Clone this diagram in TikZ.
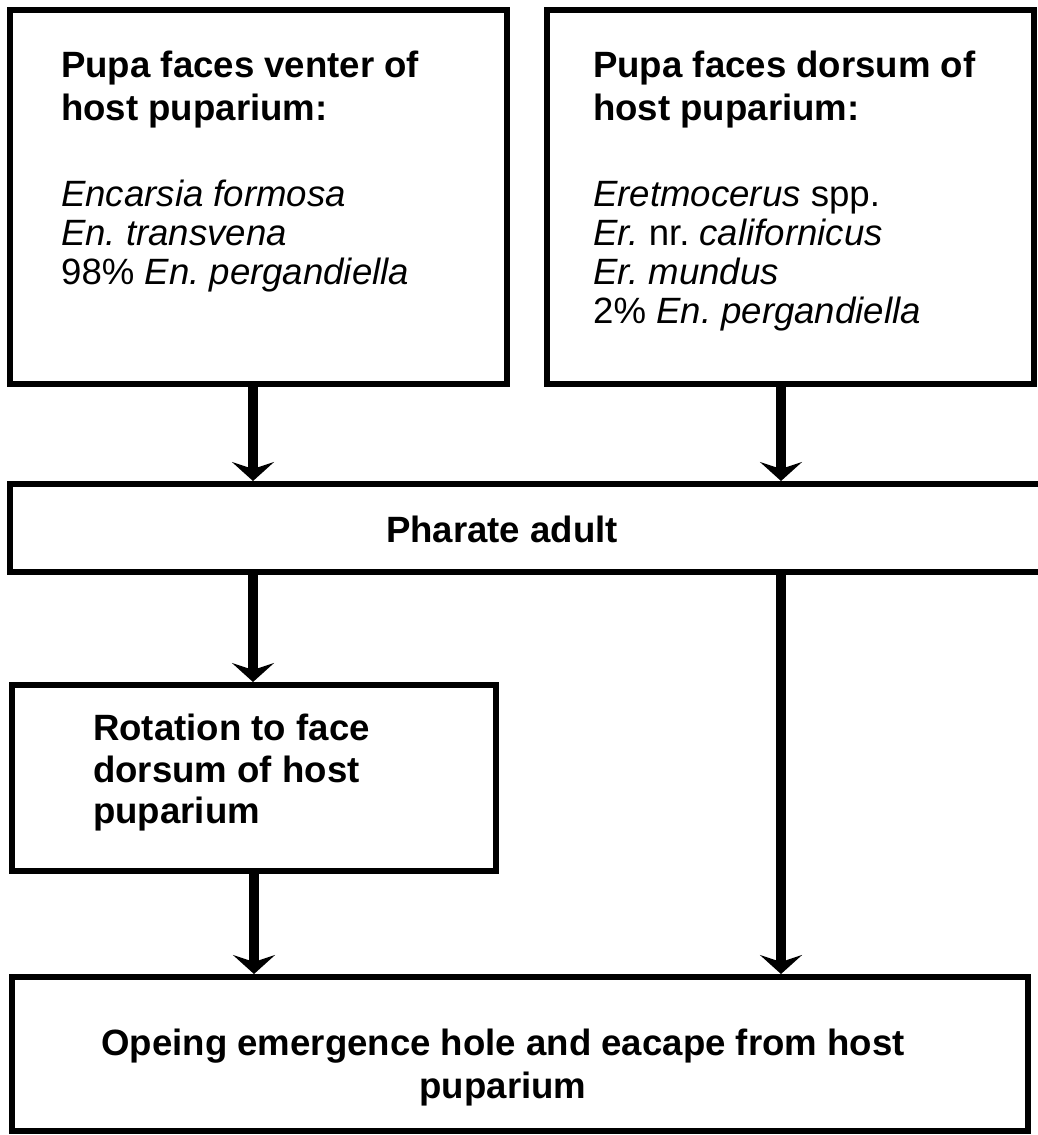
\documentclass[tikz,border=0pt]{standalone}
\usepackage{fontspec}
\setmainfont{Liberation Sans}
\usetikzlibrary{arrows.meta}
\frenchspacing
\begin{document}
\begin{tikzpicture}[x=1pt,y=-1pt,
  box/.style={draw=black, line width=6pt, inner sep=0pt, fill=white},
  txt/.style={inner sep=0pt, anchor=base west, font=\fontsize{36.6}{42}\selectfont\frenchspacing},
  btxt/.style={txt, font=\fontsize{36.6}{42}\selectfont\bfseries\frenchspacing},
  ctxt/.style={btxt, anchor=base},
  arr/.style={line width=10pt, -{Stealth[length=19pt, width=42pt, inset=7pt]}}]
\useasboundingbox[fill=white] (0,0) rectangle (1037,1135);

% boxes
\node[box, minimum width=497pt, minimum height=374pt] (b1) at (258.5,197) {};
\node[box, minimum width=487pt, minimum height=374pt] (b2) at (790.5,197) {};
\node[box, minimum width=1040pt, minimum height=88pt] (ph) at (530,528) {};
\node[box, minimum width=484pt, minimum height=186pt] (rot) at (254,778) {};
\node[box, minimum width=1016pt, minimum height=154pt] (out) at (520,1054) {};

% texts box 1
\node[btxt] (t11) at (61,77) {Pupa faces venter of};
\node[btxt] (t12) at (61,120) {host puparium:};
\node[txt] (t13) at (61,206) {\textit{Encarsia formosa}};
\node[txt] (t14) at (61,245) {\textit{En.\ transvena}};
\node[txt] (t15) at (61,284) {98\% \textit{En.\ pergandiella}};

% texts box 2
\node[btxt] (t21) at (593,77) {Pupa faces dorsum of};
\node[btxt] (t22) at (593,120) {host puparium:};
\node[txt] (t23) at (593,206) {\textit{Eretmocerus} spp.};
\node[txt] (t24) at (593,245) {\textit{Er.}\ nr.\ \textit{californicus}};
\node[txt] (t25) at (593,284) {\textit{Er.\ mundus}};
\node[txt] (t26) at (593,323) {2\% \textit{En.\ pergandiella}};

% pharate
\node[ctxt] (tph) at (502,542) {Pharate adult};

% rotation
\node[btxt] (tr1) at (93,740) {Rotation to face};
\node[btxt] (tr2) at (93,782) {dorsum of host};
\node[btxt] (tr3) at (93,823) {puparium};

% bottom
\node[ctxt] (to1) at (503,1055) {Opeing emergence hole and eacape from host};
\node[ctxt] (to2) at (503,1098) {puparium};

% connectors
\coordinate (cL) at (253,0);
\coordinate (cR) at (781,0);
\draw[arr] (cL |- b1.south) -- (cL |- ph.north);
\draw[arr] (cR |- b2.south) -- (cR |- ph.north);
\draw[arr] ([yshift=4pt]cL |- ph.south) -- (cL |- rot.north);
\draw[arr] (cR |- ph.south) -- (cR |- out.north);
\draw[arr] ([xshift=1pt]cL |- rot.south) -- ([xshift=1pt]cL |- out.north);
\end{tikzpicture}
\end{document}
